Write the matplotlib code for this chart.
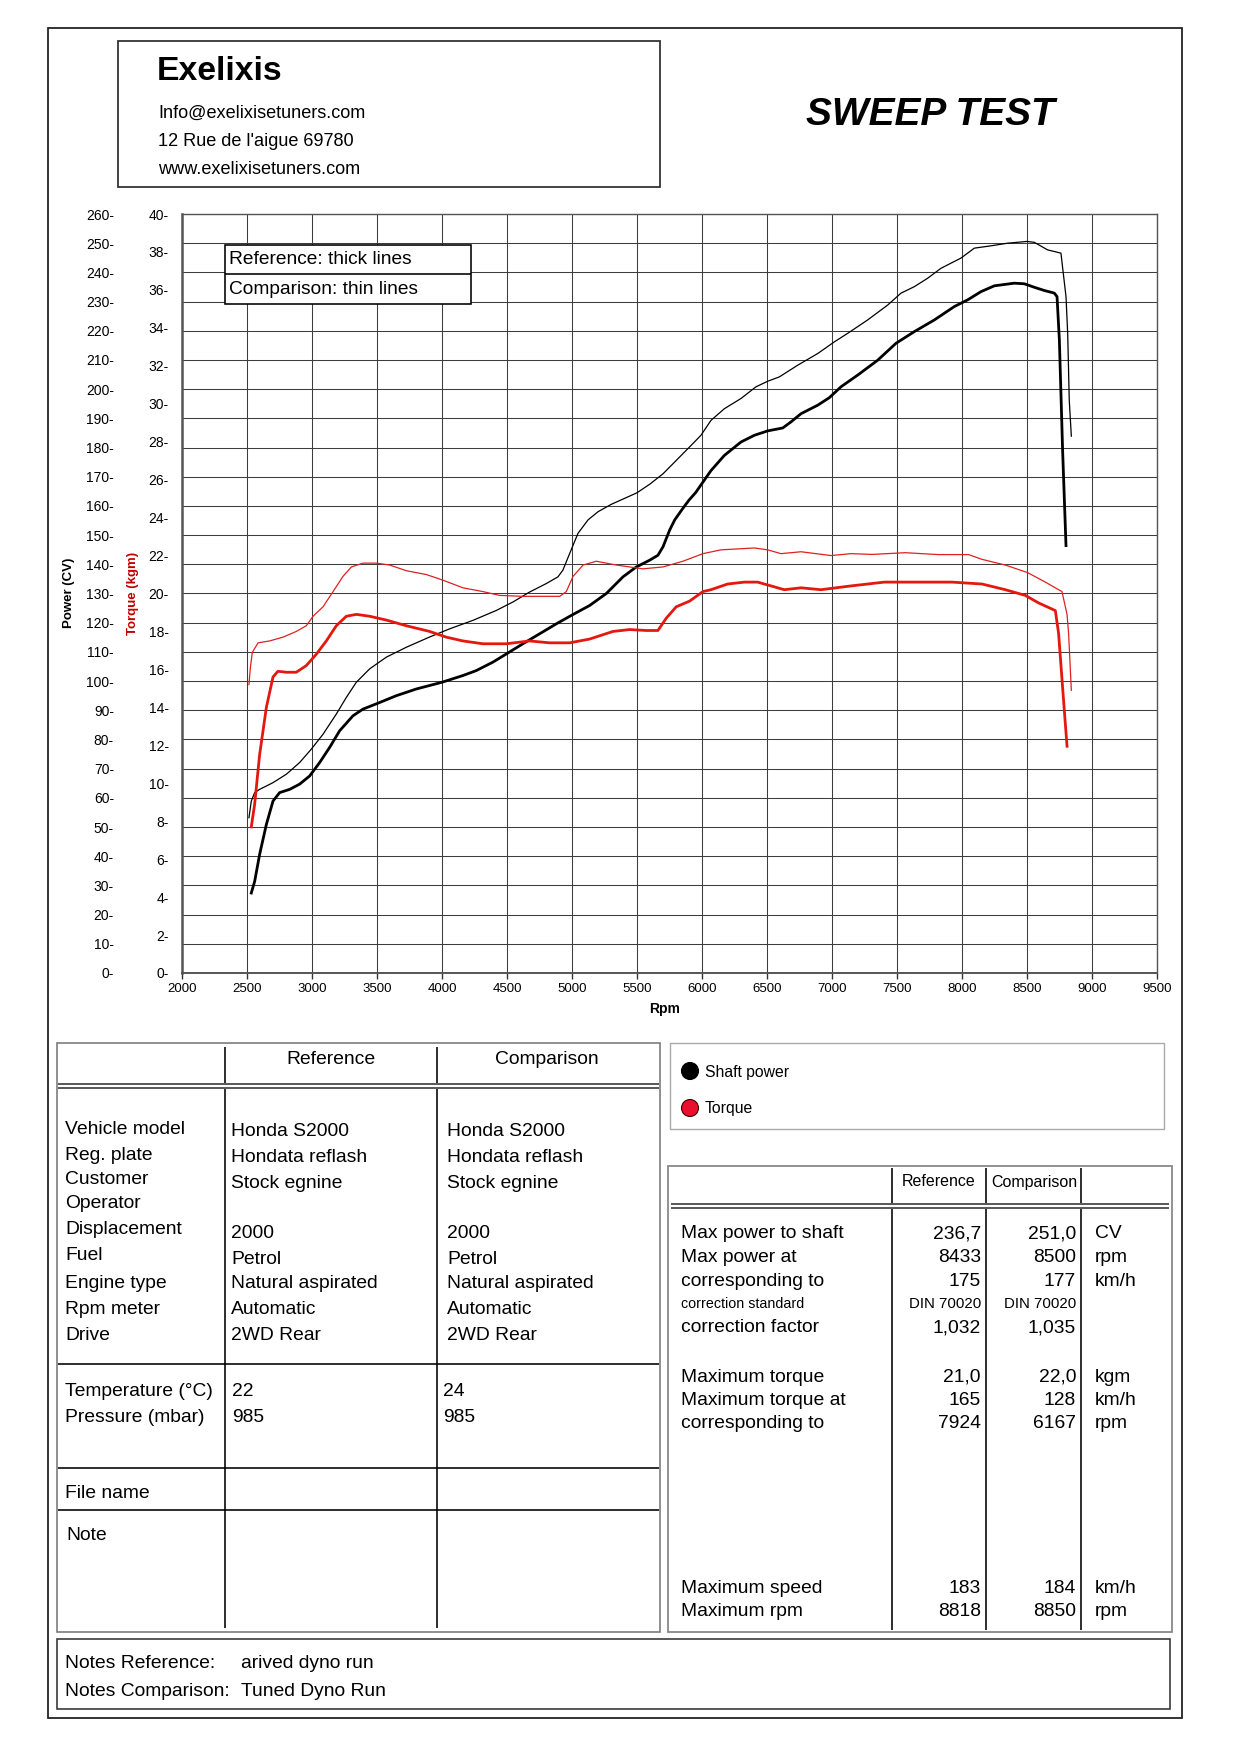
import matplotlib
matplotlib.use('Agg')
import matplotlib.pyplot as plt
from matplotlib.patches import Rectangle, Circle

W, H, DPI = 1240, 1754, 100
plt.rcParams['font.family'] = ['Liberation Sans', 'DejaVu Sans']

# ---------------- data ----------------
rpm_ticks = [2000, 2500, 3000, 3500, 4000, 4500, 5000, 5500, 6000, 6500, 7000, 7500, 8000, 8500, 9000, 9500]
power_ticks = list(range(0, 261, 10))
torque_ticks = list(range(0, 41, 2))

ref_power_rpm = [2533, 2559, 2597, 2649, 2700, 2751, 2828, 2905, 2982, 3059, 3136, 3213, 3315, 3392, 3495,
                 3649, 3803, 4000, 4161, 4264, 4392, 4495, 4623, 4751, 4879, 4995, 5136, 5264, 5392, 5495,
                 5597, 5661, 5700, 5751, 5790, 5850, 5900, 5950, 6069, 6172, 6300, 6403, 6505, 6621, 6685,
                 6762, 6890, 6980, 7069, 7197, 7351, 7492, 7633, 7787, 7941, 8044, 8146, 8249, 8402, 8479,
                 8556, 8633, 8710, 8731, 8749, 8774, 8800]
ref_power_cv = [27.4, 31.4, 40.6, 50.9, 58.9, 61.8, 62.9, 64.7, 67.5, 72.1, 77.3, 83.0, 88.1, 90.4, 92.2,
                95.0, 97.3, 99.6, 101.9, 103.6, 106.5, 109.3, 112.8, 116.2, 119.6, 122.5, 125.9, 130.0, 135.7, 139.1,
                141.4, 143.1, 146.0, 151.7, 155.2, 159.0, 162.0, 164.5, 172.1, 177.3, 181.9, 184.2, 185.7, 186.7, 188.8,
                191.6, 194.5, 197.1, 200.8, 204.8, 209.9, 215.7, 219.7, 223.7, 228.3, 230.6, 233.4, 235.4, 236.3, 236.1,
                234.9, 233.8, 232.9, 231.7, 216.8, 179.0, 146.4]

cmp_power_rpm = [2515, 2533, 2559, 2597, 2700, 2803, 2905, 2995, 3085, 3187, 3264, 3341, 3444, 3572, 3726,
                 3905, 4059, 4238, 4418, 4546, 4674, 4802, 4892, 4930, 4982, 5046, 5123, 5200, 5300, 5400,
                 5500, 5600, 5700, 5800, 5900, 5992, 6069, 6172, 6300, 6415, 6505, 6595, 6736, 6890, 7018,
                 7120, 7274, 7428, 7531, 7633, 7736, 7838, 7992, 8095, 8223, 8351, 8500, 8556, 8659, 8761,
                 8800, 8813, 8825, 8841]
cmp_power_cv = [53.2, 58.9, 61.8, 62.9, 65.2, 68.1, 72.1, 76.7, 81.8, 88.7, 94.4, 99.6, 104.2, 108.2, 111.6,
                115.1, 117.9, 120.8, 124.2, 127.1, 130.5, 133.4, 135.7, 138.0, 143.7, 150.6, 155.2, 158.0, 160.5, 162.5,
                164.5, 167.5, 171.0, 175.5, 180.0, 184.2, 189.3, 193.3, 196.8, 200.8, 202.7, 204.2, 208.2, 212.2, 216.2,
                219.1, 223.7, 228.8, 232.9, 235.1, 238.0, 241.4, 244.9, 248.3, 249.1, 250.0, 250.6, 250.3, 247.7, 246.6,
                231.7, 219.1, 196.3, 183.9]

ref_torque_rpm = [2533, 2559, 2597, 2649, 2700, 2738, 2803, 2879, 2956, 3033, 3110, 3187, 3264, 3341, 3444,
                  3572, 3726, 3905, 4033, 4161, 4315, 4495, 4674, 4828, 4982, 5136, 5315, 5443, 5572, 5661,
                  5725, 5802, 5905, 6007, 6069, 6197, 6326, 6428, 6531, 6633, 6762, 6915, 7146, 7403, 7659,
                  7923, 8154, 8333, 8487, 8590, 8718, 8743, 8782, 8808]
ref_torque_kgm = [7.7, 8.9, 11.5, 14.0, 15.6, 15.9, 15.85, 15.85, 16.2, 16.8, 17.5, 18.3, 18.8, 18.9, 18.8,
                  18.6, 18.3, 18.0, 17.7, 17.5, 17.35, 17.35, 17.5, 17.4, 17.4, 17.6, 18.0, 18.1, 18.05, 18.05,
                  18.7, 19.3, 19.6, 20.1, 20.2, 20.5, 20.6, 20.6, 20.4, 20.2, 20.3, 20.2, 20.4, 20.6, 20.6,
                  20.6, 20.5, 20.2, 19.9, 19.5, 19.1, 17.9, 14.3, 11.95]

cmp_torque_rpm = [2515, 2526, 2541, 2585, 2674, 2777, 2879, 2956, 3008, 3085, 3162, 3238, 3303, 3392, 3495,
                  3597, 3726, 3879, 4008, 4161, 4315, 4443, 4623, 4777, 4905, 4956, 5008, 5085, 5187, 5341,
                  5443, 5546, 5700, 5853, 6007, 6146, 6403, 6505, 6608, 6762, 6992, 7146, 7308, 7564, 7820,
                  8051, 8154, 8333, 8505, 8641, 8769, 8808, 8820, 8841]
cmp_torque_kgm = [15.2, 16.1, 16.9, 17.4, 17.5, 17.7, 18.0, 18.3, 18.8, 19.3, 20.1, 20.9, 21.4, 21.6, 21.6,
                  21.5, 21.2, 21.0, 20.7, 20.3, 20.1, 19.9, 19.85, 19.85, 19.85, 20.1, 20.9, 21.5, 21.7, 21.5,
                  21.4, 21.3, 21.4, 21.7, 22.1, 22.3, 22.4, 22.3, 22.1, 22.2, 22.0, 22.1, 22.06, 22.15, 22.05,
                  22.05, 21.8, 21.5, 21.1, 20.6, 20.1, 18.9, 17.9, 14.9]

header_lines = ["Info@exelixisetuners.com", "12 Rue de l'aigue 69780", "www.exelixisetuners.com"]

info_labels = ['Vehicle model', 'Reg. plate', 'Customer', 'Operator', 'Displacement', 'Fuel',
               'Engine type', 'Rpm meter', 'Drive']
info_ref = ['Honda S2000', 'Hondata reflash', 'Stock egnine', '', '2000', 'Petrol',
            'Natural aspirated', 'Automatic', '2WD Rear']
info_cmp = ['Honda S2000', 'Hondata reflash', 'Stock egnine', '', '2000', 'Petrol',
            'Natural aspirated', 'Automatic', '2WD Rear']
cond_labels = ['Temperature (°C)', 'Pressure (mbar)']
cond_ref = ['22', '985']
cond_cmp = ['24', '985']

res_labels = ['Max power to shaft', 'Max power at', 'corresponding to', 'correction standard',
              'correction factor', 'Maximum torque', 'Maximum torque at', 'corresponding to',
              'Maximum speed', 'Maximum rpm']
res_ref = ['236,7', '8433', '175', 'DIN 70020', '1,032', '21,0', '165', '7924', '183', '8818']
res_cmp = ['251,0', '8500', '177', 'DIN 70020', '1,035', '22,0', '128', '6167', '184', '8850']
res_units = ['CV', 'rpm', 'km/h', '', '', 'kgm', 'km/h', 'rpm', 'km/h', 'rpm']

notes_labels = ['Notes Reference:', 'Notes Comparison:']
notes_values = ['arived dyno run', 'Tuned Dyno Run']

# ---------------- figure ----------------
fig = plt.figure(figsize=(W / DPI, H / DPI), dpi=DPI)
fig.patch.set_facecolor('white')

L, R, T, B = 182, 1157, 214, 973
ax = fig.add_axes([L / W, 1 - B / H, (R - L) / W, (B - T) / H])
ax.set_xlim(2000, 9500)
ax.set_ylim(0, 260)
ax.set_xticks(rpm_ticks)
ax.set_xticklabels([str(v) for v in rpm_ticks], fontsize=9.5)
ax.set_yticks(power_ticks)
ax.set_yticklabels([f"{v}-" for v in power_ticks], fontsize=10)
ax.tick_params(axis='y', length=0, pad=49)
ax.tick_params(axis='x', length=4, width=1, color='#333333', pad=3)
ax.grid(True, color='#3c3c3c', lw=0.75)
ax.set_axisbelow(True)
for s in ax.spines.values():
    s.set_color('#555555')
    s.set_linewidth(1.0)
ax.spines['left'].set_linewidth(1.8)
ax.spines['bottom'].set_linewidth(1.4)

ax.plot(cmp_power_rpm, cmp_power_cv, color='black', lw=0.9, zorder=3)
ax.plot(ref_power_rpm, ref_power_cv, color='black', lw=2.0, zorder=3)

axt = ax.twinx()
axt.set_ylim(0, 40)
axt.set_yticks(torque_ticks)
axt.set_yticklabels([f"{v}-" for v in torque_ticks], fontsize=10)
axt.yaxis.tick_left()
axt.tick_params(axis='y', length=0, pad=9.5, labelleft=True, labelright=False)
for s in axt.spines.values():
    s.set_visible(False)
axt.plot(cmp_torque_rpm, cmp_torque_kgm, color='#e02020', lw=0.9, zorder=3)
axt.plot(ref_torque_rpm, ref_torque_kgm, color='#e4180e', lw=2.0, zorder=3)

# ---------------- overlay (page layout) ----------------
ov = fig.add_axes([0, 0, 1, 1], zorder=10)
ov.set_xlim(0, W)
ov.set_ylim(H, 0)
ov.axis('off')
ov.patch.set_visible(False)

PX = 0.72
DY = 3  # small vertical correction for text centring


def box(x0, y0, x1, y1, lw=1.0, color='black', fill=None):
    ov.add_patch(Rectangle((x0, y0), x1 - x0, y1 - y0, lw=lw * PX, edgecolor=color,
                           facecolor=fill if fill else 'none'))


def hl(x0, x1, y, lw=1.0, color='black'):
    ov.plot([x0, x1], [y, y], color=color, lw=lw * PX, solid_capstyle='butt')


def vl(x, y0, y1, lw=1.0, color='black'):
    ov.plot([x, x], [y0, y1], color=color, lw=lw * PX, solid_capstyle='butt')


def tx(x, y, s, size=13, ha='left', dy=DY, **kw):
    ov.text(x, y + dy, s, fontsize=size, ha=ha, va='center', **kw)


TS = 13.9  # table text size

# outer frame
box(48, 28, 1182, 1718, lw=1.8, color='#222222')

# header
box(118, 41, 660, 187, lw=1.8, color='#333333')
tx(157, 69, 'Exelixis', size=24.3, weight='bold')
for y, s in zip([110, 138, 166], header_lines):
    tx(158, y, s, size=13.1)
tx(930, 112, 'SWEEP TEST', size=28, ha='center', weight='bold', style='italic')

# chart annotation box
box(225, 245, 471, 304, lw=1.6, color='black', fill='white')
hl(225, 471, 274, lw=1.6)
tx(229, 259, 'Reference: thick lines', size=13.8, dy=1)
tx(229, 288, 'Comparison: thin lines', size=13.8, dy=1)

# axis titles
tx(69, 593, 'Power (CV)', size=9.5, ha='center', weight='bold', rotation=90, dy=0)
tx(133, 593, 'Torque (kgm)', size=9.5, ha='center', weight='bold', rotation=90, color='#c00000', dy=0)
tx(665, 1009, 'Rpm', size=10, ha='center', weight='bold', dy=0)

# left info table
box(57, 1043, 660, 1632, lw=1.6, color='#777777')
vl(225, 1047, 1083, lw=1.6)
vl(437, 1047, 1083, lw=1.6)
hl(58, 659, 1084, lw=1.6, color='#333333')
hl(58, 659, 1088, lw=1.6, color='#333333')
vl(225, 1089, 1628, lw=1.6)
vl(437, 1089, 1628, lw=1.6)
hl(58, 659, 1364, lw=1.6)
hl(58, 659, 1468, lw=1.6)
hl(58, 659, 1510, lw=1.6)
tx(331, 1059, 'Reference', size=TS, ha='center', dy=1)
tx(547, 1059, 'Comparison', size=TS, ha='center', dy=1)
label_y = [1126, 1152, 1177, 1201, 1227, 1253, 1280, 1306, 1333]
value_y = [1129, 1155, 1181, 1205, 1230, 1257, 1281, 1307, 1333]
for y, s in zip(label_y, info_labels):
    tx(65, y, s, size=TS)
for y, a, b in zip(value_y, info_ref, info_cmp):
    tx(231, y, a, size=TS)
    tx(447, y, b, size=TS)
for y, s, a, b in zip([1389, 1415], cond_labels, cond_ref, cond_cmp):
    tx(65, y, s, size=TS)
    tx(232, y, a, size=TS)
    tx(443, y, b, size=TS)
tx(65, 1491, 'File name', size=TS)
tx(66, 1532, 'Note', size=TS)

# legend box
box(670, 1043, 1164, 1129, lw=1.4, color='#aaaaaa')
ov.add_patch(Circle((690, 1071), 8.5, facecolor='black', edgecolor='black', lw=0.8))
ov.add_patch(Circle((690, 1108), 8.5, facecolor='#e8102e', edgecolor='#400000', lw=0.8))
tx(705, 1071, 'Shaft power', size=11.3, dy=1)
tx(705, 1108, 'Torque', size=11.3, dy=1)

# results table
box(668, 1166, 1172, 1632, lw=1.8, color='#888888')
for x in (892, 986, 1081):
    vl(x, 1168, 1203, lw=1.6)
    vl(x, 1209, 1630, lw=1.6)
hl(671, 1169, 1204, lw=1.6, color='#333333')
hl(671, 1169, 1208, lw=1.6, color='#333333')
tx(939, 1181, 'Reference', size=11.5, ha='center', dy=1)
tx(1034, 1181, 'Comparison', size=11.5, ha='center', dy=1)
res_y = [1231, 1254.5, 1278, 1301.5, 1325, 1374, 1397.6, 1421, 1585.5, 1609]
for y, lab, a, b, u in zip(res_y, res_labels, res_ref, res_cmp, res_units):
    small = lab == 'correction standard'
    tx(681, y, lab, size=10.3 if small else TS)
    tx(981, y, a, size=10.8 if small else TS, ha='right')
    tx(1076, y, b, size=10.8 if small else TS, ha='right')
    if u:
        tx(1095, y, u, size=TS)

# notes box
box(57, 1639, 1170, 1709, lw=1.6, color='#333333')
for y, a, b in zip([1660, 1688], notes_labels, notes_values):
    tx(65, y, a, size=TS)
    tx(241, y, b, size=TS)

fig.savefig('out.png', dpi=DPI, facecolor='white')
